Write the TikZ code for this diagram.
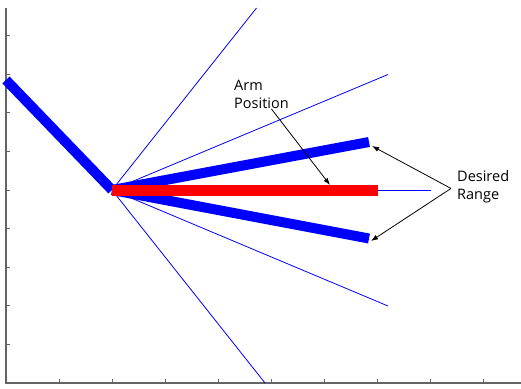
\documentclass[tikz,border=0pt]{standalone}
\usepackage{fontspec}
\setmainfont{Open Sans}
\usetikzlibrary{arrows.meta}
\definecolor{armblue}{HTML}{0000FF}
\definecolor{armred}{HTML}{FF0000}
\definecolor{axisgray}{HTML}{646464}

\begin{document}
\begin{tikzpicture}[x=1pt, y=-1pt,
    axisline/.style={axisgray, line width=1.5pt},
    axistick/.style={axisgray, line width=1pt},
    reach/.style={armblue, line width=0.8pt},
    limb/.style={armblue, line width=10pt},
    forearm/.style={armred, line width=11pt},
    note/.style={font=\fontsize{14.5}{18}\selectfont, align=left, inner sep=0pt, text=black},
    pointer/.style={-{Latex[length=7pt, width=5pt]}, line width=0.8pt, black},
  ]
  \useasboundingbox (0,0) rectangle (521,388);

  % axes
  \draw[axisline] (6,8) -- (6,383) -- (521,383);
  \foreach \i in {1,...,9} {
    \draw[axistick] (6,{383-38.6*\i}) -- (10,{383-38.6*\i});
    \draw[axistick] ({6+53.1*\i},383) -- ({6+53.1*\i},379);
  }

  \coordinate (shoulder) at (6,80);
  \coordinate (elbow) at (112,190);

  % reach lines
  \draw[reach] (elbow) -- (256.5,8);
  \draw[reach] (elbow) -- (388,74.5);
  \draw[reach] (elbow) -- (431,190);
  \draw[reach] (elbow) -- (388,306);
  \draw[reach] (elbow) -- (265,383);

  % arm and desired range
  \draw[limb] (shoulder) -- (elbow);
  \draw[limb] (elbow) -- (369,142);
  \draw[limb] (elbow) -- (369,238.5);
  \draw[forearm] (elbow) -- (377.5,190);

  \node[note, anchor=north west] (armlbl) at (234,80) {Arm\\Position};
  \node[note, anchor=north west] (rangelbl) at (457,170) {Desired\\Range};

  \coordinate (armtip) at (330,185);
  \coordinate (uptip) at (372,146);
  \coordinate (lowtip) at (371,241);

  \draw[pointer] ([xshift=10pt]armlbl.south) -- (armtip);
  \draw[pointer] ([xshift=-6pt, yshift=-2pt]rangelbl.west) -- (uptip);
  \draw[pointer] ([xshift=-6pt, yshift=-2pt]rangelbl.west) -- (lowtip);
\end{tikzpicture}
\end{document}
